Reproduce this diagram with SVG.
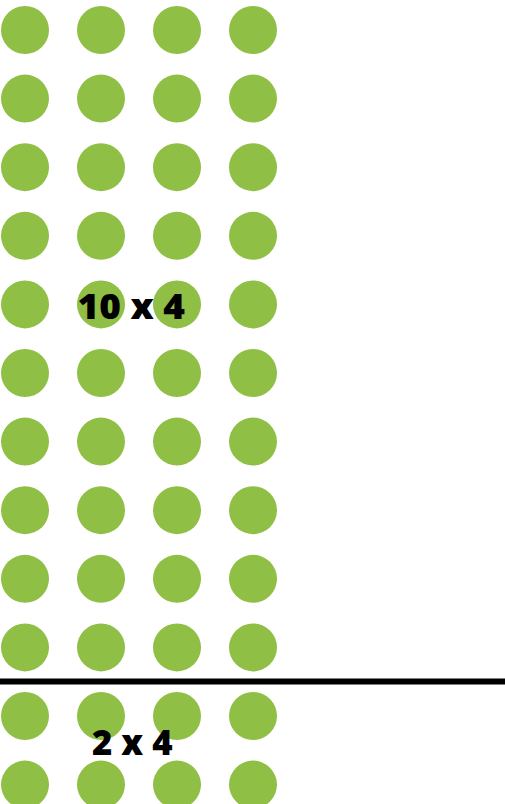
<svg xmlns="http://www.w3.org/2000/svg" width="505" height="804" viewBox="0 0 505 804">
<style>
.dot{fill:#8fbf45}
.lbl{font-family:"Open Sans","Liberation Sans",sans-serif;font-weight:800;font-size:35px;fill:#000}
</style>
<defs><circle id="d" r="24" class="dot"/></defs>
<rect width="505" height="804" fill="#fff"/>
<g id="dots">
<g id="row1"><use href="#d" x="25" y="30"/><use href="#d" x="101" y="30"/><use href="#d" x="177" y="30"/><use href="#d" x="253" y="30"/></g>
<g id="row2"><use href="#d" x="25" y="98.6"/><use href="#d" x="101" y="98.6"/><use href="#d" x="177" y="98.6"/><use href="#d" x="253" y="98.6"/></g>
<g id="row3"><use href="#d" x="25" y="167.2"/><use href="#d" x="101" y="167.2"/><use href="#d" x="177" y="167.2"/><use href="#d" x="253" y="167.2"/></g>
<g id="row4"><use href="#d" x="25" y="235.8"/><use href="#d" x="101" y="235.8"/><use href="#d" x="177" y="235.8"/><use href="#d" x="253" y="235.8"/></g>
<g id="row5"><use href="#d" x="25" y="304.4"/><use href="#d" x="101" y="304.4"/><use href="#d" x="177" y="304.4"/><use href="#d" x="253" y="304.4"/></g>
<g id="row6"><use href="#d" x="25" y="373"/><use href="#d" x="101" y="373"/><use href="#d" x="177" y="373"/><use href="#d" x="253" y="373"/></g>
<g id="row7"><use href="#d" x="25" y="441.6"/><use href="#d" x="101" y="441.6"/><use href="#d" x="177" y="441.6"/><use href="#d" x="253" y="441.6"/></g>
<g id="row8"><use href="#d" x="25" y="510.2"/><use href="#d" x="101" y="510.2"/><use href="#d" x="177" y="510.2"/><use href="#d" x="253" y="510.2"/></g>
<g id="row9"><use href="#d" x="25" y="578.8"/><use href="#d" x="101" y="578.8"/><use href="#d" x="177" y="578.8"/><use href="#d" x="253" y="578.8"/></g>
<g id="row10"><use href="#d" x="25" y="647.4"/><use href="#d" x="101" y="647.4"/><use href="#d" x="177" y="647.4"/><use href="#d" x="253" y="647.4"/></g>
<g id="row11"><use href="#d" x="25" y="716"/><use href="#d" x="101" y="716"/><use href="#d" x="177" y="716"/><use href="#d" x="253" y="716"/></g>
<g id="row12"><use href="#d" x="25" y="784.6"/><use href="#d" x="101" y="784.6"/><use href="#d" x="177" y="784.6"/><use href="#d" x="253" y="784.6"/></g>
</g>
<g id="divider"><rect x="0" y="678.5" width="505" height="6" fill="#000"/></g>
<g id="labels">
<text class="lbl" x="77.5" y="319" textLength="107.5" lengthAdjust="spacingAndGlyphs">10 x 4</text>
<text class="lbl" x="92" y="755" textLength="80.5" lengthAdjust="spacingAndGlyphs">2 x 4</text>
</g>
</svg>
